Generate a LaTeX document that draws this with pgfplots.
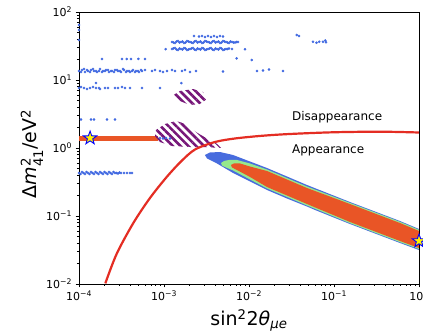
\documentclass[border=0pt]{standalone}
\usepackage{amsmath}
\usepackage{fontspec}
\setmainfont{DejaVu Sans}[ItalicFont={DejaVu Sans Oblique}]
\usepackage{pgfplots}
\pgfplotsset{compat=1.18}
\usetikzlibrary{patterns.meta}
\definecolor{dotblue}{RGB}{65,105,225}
\definecolor{ellblue}{RGB}{72,108,222}
\definecolor{ellgreen}{RGB}{150,232,140}
\definecolor{ellred}{RGB}{233,85,38}
\definecolor{curvered}{RGB}{228,45,35}
\definecolor{hatchpurple}{RGB}{118,22,120}
\pgfdeclareplotmark{fstar}{%
  \pgfpathmoveto{\pgfpointpolar{90}{\pgfplotmarksize}}%
  \pgfpathlineto{\pgfpointpolar{126}{0.4\pgfplotmarksize}}%
  \pgfpathlineto{\pgfpointpolar{162}{\pgfplotmarksize}}%
  \pgfpathlineto{\pgfpointpolar{198}{0.4\pgfplotmarksize}}%
  \pgfpathlineto{\pgfpointpolar{234}{\pgfplotmarksize}}%
  \pgfpathlineto{\pgfpointpolar{270}{0.4\pgfplotmarksize}}%
  \pgfpathlineto{\pgfpointpolar{306}{\pgfplotmarksize}}%
  \pgfpathlineto{\pgfpointpolar{342}{0.4\pgfplotmarksize}}%
  \pgfpathlineto{\pgfpointpolar{18}{\pgfplotmarksize}}%
  \pgfpathlineto{\pgfpointpolar{54}{0.4\pgfplotmarksize}}%
  \pgfpathclose
  \pgfusepathqfillstroke}
\begin{document}
\begin{tikzpicture}
\begin{axis}[
  scale only axis, width=340pt, height=272pt,
  xmode=log, ymode=log,
  xmin=1e-4, xmax=1, ymin=1e-2, ymax=100,
  axis line style={line width=0.8pt},
  tick pos=left, tick align=outside,
  major tick length=3.5pt, minor tick length=2pt,
  every tick/.style={black, line width=0.6pt},
  xtick={1e-4,1e-3,1e-2,1e-1,1},
  xticklabels={10$^{\text{−4}}$,10$^{\text{−3}}$,10$^{\text{−2}}$,10$^{\text{−1}}$,10$^{\text{0}}$},
  ytick={1e-2,1e-1,1,10,100},
  yticklabels={10$^{\text{−2}}$,10$^{\text{−1}}$,10$^{\text{0}}$,10$^{\text{1}}$,10$^{\text{2}}$},
  minor xtick={2e-4,3e-4,4e-4,5e-4,6e-4,7e-4,8e-4,9e-4,2e-3,3e-3,4e-3,5e-3,6e-3,7e-3,8e-3,9e-3,2e-2,3e-2,4e-2,5e-2,6e-2,7e-2,8e-2,9e-2,0.2,0.3,0.4,0.5,0.6,0.7,0.8,0.9},
  minor ytick={2e-2,3e-2,4e-2,5e-2,6e-2,7e-2,8e-2,9e-2,0.2,0.3,0.4,0.5,0.6,0.7,0.8,0.9,2,3,4,5,6,7,8,9,20,30,40,50,60,70,80,90},
  tick label style={font=\fontsize{11}{13}\selectfont},
  label style={font=\fontsize{19}{22}\selectfont},
  xlabel={sin$^{\text{2}}$2\textit{θ}$_{\text{\textit{μe}}}$},
  ylabel={Δ\textit{m}$^{\text{2}}_{\text{41}}$/eV$^{\text{2}}$},
  xlabel style={at={(axis description cs:0.5,-0.154)}, anchor=base},
  ylabel style={at={(axis description cs:-0.124,0.478)}, anchor=base},
]
% scattered blue points
\addplot[only marks, mark=*, mark size=1.1pt, color=dotblue, mark options={draw=none}] coordinates {
(1.00e-4,13.6)(1.085e-4,14.0)(1.177e-4,13.1)(1.276e-4,13.6)(1.384e-4,14.0)(1.501e-4,13.6)(1.628e-4,13.1)(1.766e-4,14.5)(1.916e-4,13.6)(2.078e-4,14.0)(2.254e-4,13.1)(2.444e-4,13.6)(2.651e-4,14.0)(2.876e-4,13.6)(3.120e-4,13.1)(3.383e-4,14.0)(3.671e-4,13.6)(3.981e-4,13.1)(4.318e-4,14.0)(4.683e-4,13.6)(5.080e-4,13.1)(5.510e-4,13.6)(5.976e-4,14.0)
(1.056e-4,13.1)(1.145e-4,14.5)(1.242e-4,14.0)(1.347e-4,13.1)(1.461e-4,14.5)(1.585e-4,13.6)(1.719e-4,13.6)(1.865e-4,13.1)(2.022e-4,13.6)(2.194e-4,14.0)(2.379e-4,13.6)(2.581e-4,13.1)(2.800e-4,14.0)(3.036e-4,13.6)(3.293e-4,14.5)(3.573e-4,13.1)(3.875e-4,13.6)(4.202e-4,13.6)(4.558e-4,13.1)(4.944e-4,13.6)(5.362e-4,14.0)
(7.226e-4,13.6)(7.839e-4,14.0)(8.974e-4,13.6)(9.733e-4,13.1)(1.085e-3,13.6)(1.242e-3,14.0)(1.347e-3,13.6)(1.628e-3,13.6)(1.766e-3,14.0)(2.022e-3,13.1)(2.379e-3,13.6)(4.944e-3,13.3)(1.242e-2,13.6)(1.461e-2,13.8)(1.719e-2,14.3)(2.512e-2,13.6)
(1.00e-4,7.63)(1.056e-4,7.89)(1.145e-4,7.63)(1.242e-4,7.37)(1.347e-4,7.63)(1.461e-4,7.89)(1.585e-4,7.63)(1.719e-4,7.63)(1.766e-4,7.37)
(2.022e-4,7.63)(2.194e-4,7.63)(2.651e-4,7.63)(2.876e-4,7.63)(3.206e-4,7.89)(3.48e-4,7.63)(3.981e-4,7.63)(5.51e-4,7.63)(8.974e-4,7.63)(1.6e-3,9.0)(1.585e-4,9.0)
(1.865e-4,20.4)(3.206e-4,20.4)(3.65e-4,20.4)(4.09e-4,20.4)(5.0e-4,20.4)(5.98e-4,20.4)
(2.254e-3,44.4)(2.581e-3,43.5)(2.800e-3,44.4)(3.036e-3,43.0)(3.293e-3,44.4)(3.573e-3,43.0)(3.875e-3,44.4)(4.202e-3,43.0)(4.558e-3,44.4)(4.944e-3,43.5)
(1.242e-3,36.2)(1.347e-3,35.0)(1.461e-3,37.5)(1.585e-3,36.2)(1.719e-3,35.0)(1.865e-3,37.5)(2.022e-3,36.2)(2.194e-3,35.0)(2.379e-3,37.5)(2.581e-3,36.2)(2.800e-3,35.0)(3.036e-3,37.5)(3.293e-3,36.2)(3.573e-3,35.0)(3.875e-3,37.5)(4.202e-3,36.2)(4.558e-3,35.0)(4.944e-3,37.5)(5.362e-3,36.2)(5.817e-3,35.0)(6.310e-3,36.2)(6.843e-3,35.6)(7.424e-3,36.2)
(1.29e-3,35.6)(1.40e-3,36.8)(1.52e-3,35.6)(1.65e-3,36.8)(1.79e-3,35.6)(1.94e-3,36.8)(2.11e-3,35.6)(2.29e-3,36.8)(2.48e-3,35.6)(2.69e-3,36.8)(2.92e-3,35.6)(3.16e-3,36.8)(3.43e-3,35.6)(3.72e-3,36.8)(4.04e-3,35.6)(4.38e-3,36.8)(4.75e-3,35.6)(5.15e-3,36.8)(5.59e-3,35.6)(6.06e-3,36.8)(6.57e-3,35.6)(7.13e-3,36.2)
(1.242e-3,28.6)(1.347e-3,29.6)(1.461e-3,27.6)(1.585e-3,28.6)(1.719e-3,29.6)(1.865e-3,27.6)(2.022e-3,28.6)(2.194e-3,29.6)(2.379e-3,27.6)(2.581e-3,28.6)(2.800e-3,29.6)(3.036e-3,27.6)(3.293e-3,28.6)(3.573e-3,29.6)(3.875e-3,27.6)(4.202e-3,28.6)(4.558e-3,29.6)(4.944e-3,27.6)(5.362e-3,28.6)(5.817e-3,29.1)(6.310e-3,28.6)
(1.29e-3,29.1)(1.40e-3,28.1)(1.52e-3,29.1)(1.65e-3,28.1)(1.79e-3,29.1)(1.94e-3,28.1)(2.11e-3,29.1)(2.29e-3,28.1)(2.48e-3,29.1)(2.69e-3,28.1)(2.92e-3,29.1)(3.16e-3,28.1)(3.43e-3,29.1)(3.72e-3,28.1)(4.04e-3,29.1)(4.38e-3,28.1)(4.75e-3,29.1)(5.15e-3,28.1)(5.59e-3,28.6)
(1.047e-3,28.4)(8.974e-3,28.4)(7.17e-3,20.8)(1.076e-2,19.7)(3.64e-2,45.9)(3.87e-2,44.4)(5.66e-2,36.4)(6.23e-2,35.3)(6.7e-2,36.6)(7.42e-2,36.4)(8.05e-2,35.9)(7.9e-2,38.0)(1e-4,64.4)(1e-4,54.4)(1e-4,38.7)
(1.00e-4,0.429)(1.041e-4,0.415)(1.085e-4,0.444)(1.13e-4,0.429)(1.177e-4,0.415)(1.225e-4,0.444)(1.276e-4,0.429)(1.329e-4,0.415)(1.384e-4,0.444)(1.441e-4,0.429)(1.501e-4,0.415)(1.563e-4,0.444)(1.628e-4,0.429)(1.695e-4,0.415)(1.766e-4,0.444)(1.839e-4,0.429)(1.916e-4,0.415)(1.995e-4,0.444)(2.078e-4,0.429)(2.163e-4,0.415)(2.254e-4,0.444)(2.346e-4,0.429)(2.444e-4,0.415)(2.545e-4,0.444)(2.651e-4,0.429)(2.76e-4,0.429)(2.876e-4,0.422)(2.994e-4,0.436)(3.120e-4,0.429)(3.383e-4,0.429)(3.671e-4,0.429)(3.981e-4,0.429)(4.202e-4,0.429)
(1.056e-4,2.62)(1.384e-4,2.62)(1.501e-4,2.62)(2.135e-4,2.62)(2.651e-4,2.62)
(8.974e-4,1.40)(9.733e-4,1.38)(1.056e-3,1.40)(1.177e-3,1.38)
};
% orange horizontal band
\addplot[fill=ellred, draw=none] coordinates {(1e-4,1.28)(8.5e-4,1.28)(8.5e-4,1.50)(1e-4,1.50)} -- cycle;
% hatched regions
\addplot[draw=none, pattern={Lines[angle=-45,distance=5.5pt,line width=2.6pt]}, pattern color=hatchpurple] coordinates {
(1.242e-3,5.82)(1.542e-3,6.89)(2.194e-3,7.37)(2.876e-3,6.66)(3.206e-3,5.26)(2.651e-3,4.44)(2.022e-3,4.29)(1.542e-3,4.91)} -- cycle;
\addplot[draw=none, pattern={Lines[angle=-45,distance=5.5pt,line width=2.6pt]}, pattern color=hatchpurple] coordinates {
(8.05e-4,1.839)(1.028e-3,2.254)(1.384e-3,2.495)(1.815e-3,2.254)(2.379e-3,1.719)(3.12e-3,1.403)(4.09e-3,1.184)(4.69e-3,1.0)(3.03e-3,1.034)(2.022e-3,1.034)(1.242e-3,1.070)(8.97e-4,1.225)(7.84e-4,1.501)} -- cycle;
% allowed regions
\addplot[fill=ellblue, draw=none] coordinates {
(3.03e-3,0.789)(3.48e-3,0.859)(4.56e-3,0.873)(6.49e-3,0.789)(1.028e-2,0.633)(1.628e-2,0.508)(2.80e-2,0.381)(4.81e-2,0.2857)(0.154,0.1606)(0.597,0.0844)(1,0.0644)
(1,0.0316)(0.597,0.0401)(0.154,0.0763)(5.98e-2,0.1225)(4.81e-2,0.1379)(2.80e-2,0.1808)(1.628e-2,0.2412)(1.028e-2,0.3218)(6.49e-3,0.429)(4.202e-3,0.592)(3.206e-3,0.701)} -- cycle;
\addplot[fill=ellgreen, draw=none] coordinates {
(4.69e-3,0.601)(5.08e-3,0.644)(5.82e-3,0.666)(7.23e-3,0.666)(1.028e-2,0.592)(1.628e-2,0.483)(2.80e-2,0.362)(4.81e-2,0.2716)(0.154,0.1560)(0.597,0.0822)(1,0.0627)
(1,0.0326)(0.597,0.0412)(0.154,0.0784)(4.81e-2,0.1427)(2.80e-2,0.1903)(1.628e-2,0.2537)(1.028e-2,0.344)(6.49e-3,0.467)(5.22e-3,0.525)(4.81e-3,0.553)} -- cycle;
\addplot[fill=ellred, draw=none] coordinates {
(6.14e-3,0.562)(6.66e-3,0.592)(7.83e-3,0.592)(1.028e-2,0.534)(1.628e-2,0.459)(2.80e-2,0.344)(4.81e-2,0.258)(0.154,0.1501)(0.597,0.0789)(1,0.0602)
(1,0.0338)(0.597,0.0429)(0.154,0.0817)(4.81e-2,0.1501)(2.80e-2,0.2002)(1.628e-2,0.2670)(1.028e-2,0.375)(7.23e-3,0.474)(6.31e-3,0.517)} -- cycle;
% boundary curve
\addplot[curvered, line width=2.2pt, smooth] coordinates {
(2.04e-4,0.0102)(2.78e-4,0.0279)(4.36e-4,0.0789)(6.84e-4,0.1839)(1.076e-3,0.3746)(1.585e-3,0.633)(2.316e-3,0.950)(3.981e-3,1.225)(6.843e-3,1.380)(1.422e-2,1.512)(3.036e-2,1.607)(9.73e-2,1.702)(0.3475,1.737)(1,1.690)};
% best fit stars
\addplot[only marks, mark=fstar, mark size=7pt, mark options={fill=yellow, draw=blue, line width=0.9pt}] coordinates {(1.35e-4,1.40)(1,0.0429)};
\node[anchor=base west, inner sep=0pt, font=\fontsize{12}{14}\selectfont] at (axis cs:3.2e-2,2.52) {Disappearance};
\node[anchor=base west, inner sep=0pt, font=\fontsize{12}{14}\selectfont] at (axis cs:3.2e-2,0.836) {Appearance};
\coordinate (SW) at (rel axis cs:0,0);
\coordinate (NE) at (rel axis cs:1,1);
\end{axis}
\pgfresetboundingbox
\useasboundingbox ([xshift=-79pt,yshift=-47pt]SW) rectangle ([xshift=4pt,yshift=12pt]NE);
\end{tikzpicture}
\end{document}
